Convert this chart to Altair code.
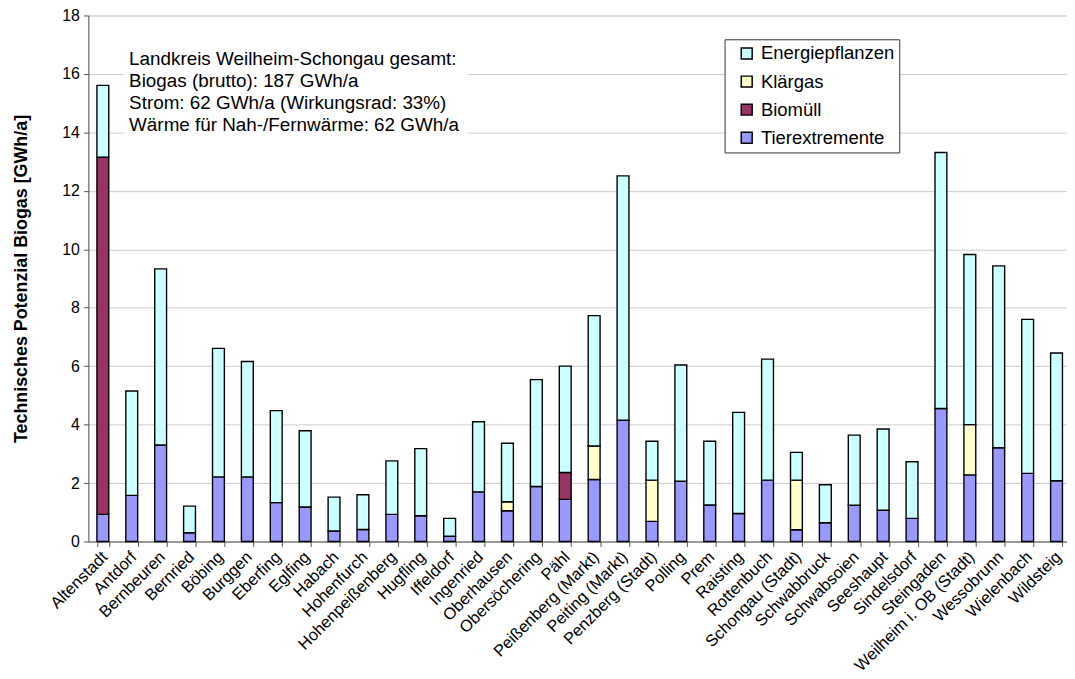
import altair as alt
import pandas as pd

gemeinden = [
    "Altenstadt", "Antdorf", "Bernbeuren", "Bernried", "Böbing", "Burggen",
    "Eberfing", "Eglfing", "Habach", "Hohenfurch", "Hohenpeißenberg", "Hugfling",
    "Iffeldorf", "Ingenried", "Oberhausen", "Obersöchering", "Pähl",
    "Peißenberg (Markt)", "Peiting (Markt)", "Penzberg (Stadt)", "Polling", "Prem",
    "Raisting", "Rottenbuch", "Schongau (Stadt)", "Schwabbruck", "Schwabsoien",
    "Seeshaupt", "Sindelsdorf", "Steingaden", "Weilheim i. OB (Stadt)",
    "Wessobrunn", "Wielenbach", "Wildsteig",
]
tierextremente = [0.93, 1.58, 3.30, 0.30, 2.21, 2.21, 1.33, 1.18, 0.36, 0.41, 0.93, 0.88,
                  0.18, 1.70, 1.05, 1.88, 1.44, 2.12, 4.15, 0.69, 2.06, 1.25,
                  0.96, 2.10, 0.40, 0.64, 1.24, 1.07, 0.79, 4.55, 2.28, 3.21, 2.33, 2.08]
biomuell = [12.22, 0, 0, 0, 0, 0, 0, 0, 0, 0, 0, 0,
            0, 0, 0, 0, 0.92, 0, 0, 0, 0, 0,
            0, 0, 0, 0, 0, 0, 0, 0, 0, 0, 0, 0]
klaergas = [0, 0, 0, 0, 0, 0, 0, 0, 0, 0, 0, 0,
            0, 0, 0.31, 0, 0, 1.15, 0, 1.41, 0, 0,
            0, 0, 1.70, 0, 0, 0, 0, 0, 1.72, 0, 0, 0]
energiepflanzen = [2.46, 3.57, 6.03, 0.91, 4.40, 3.95, 3.15, 2.61, 1.16, 1.19, 1.83, 2.30,
                   0.61, 2.40, 2.00, 3.66, 3.64, 4.46, 8.36, 1.33, 3.98, 2.18,
                   3.46, 4.14, 0.95, 1.30, 2.40, 2.78, 1.94, 8.76, 5.82, 6.22, 5.27, 4.37]

legend_names = ["Energiepflanzen", "Klärgas", "Biomüll", "Tierextremente"]
legend_colors = ["#CCFFFF", "#FFFFCC", "#993366", "#9999FF"]
y_ticks = [0, 2, 4, 6, 8, 10, 12, 14, 16, 18]
annotation_lines = [
    "Landkreis Weilheim-Schongau gesamt:",
    "Biogas (brutto): 187 GWh/a",
    "Strom: 62 GWh/a (Wirkungsrad: 33%)",
    "Wärme für Nah-/Fernwärme: 62 GWh/a",
]
y_title = "Technisches Potenzial Biogas [GWh/a]"

series = [("Tierextremente", tierextremente), ("Biomüll", biomuell),
          ("Klärgas", klaergas), ("Energiepflanzen", energiepflanzen)]
rows = []
for i, g in enumerate(gemeinden):
    for k, (name, vals) in enumerate(series):
        if vals[i] > 0:
            rows.append({"Gemeinde": g, "Quelle": name, "Wert": vals[i], "Ordnung": k})
df = pd.DataFrame(rows)

FONT = "Liberation Sans"
W, H = 990, 530

bars = alt.Chart(df).mark_bar(stroke="black", strokeWidth=1.4).encode(
    x=alt.X("Gemeinde:N", sort=gemeinden,
            scale=alt.Scale(paddingInner=0.59, paddingOuter=0.295),
            axis=alt.Axis(title=None, labelAngle=-45, labelAlign="right", labelBaseline="top",
                          labelPadding=2, labelOffset=-4, labelFontSize=16.5, labelFont=FONT,
                          labelColor="black", labelLimit=400, labelOverlap=False,
                          tickBand="extent", tickSize=5,
                          tickColor="#555555", domainColor="#555555", grid=False)),
    y=alt.Y("Wert:Q", stack="zero",
            scale=alt.Scale(domain=[0, 18], nice=False),
            axis=alt.Axis(values=y_ticks, title=y_title, titleFontSize=18, titleFont=FONT,
                          titleFontWeight="bold", titleColor="black", titleAngle=270,
                          titleX=-67, titleY=H / 2, titleAlign="center", titleBaseline="middle",
                          labelFontSize=16, labelFont=FONT, labelColor="black", labelPadding=4,
                          tickSize=5, tickColor="#555555", domainColor="#555555",
                          gridColor="#cccccc", gridWidth=1)),
    color=alt.Color("Quelle:N",
                    scale=alt.Scale(domain=legend_names, range=legend_colors),
                    legend=alt.Legend(title=None, orient="none", legendX=641, legendY=24,
                                      padding=5, rowPadding=9.3, symbolOffset=8,
                                      symbolType="square", symbolSize=121,
                                      symbolStrokeColor="black", symbolStrokeWidth=1.5,
                                      labelFontSize=18.6, labelFont=FONT,
                                      labelColor="black", labelOffset=5,
                                      strokeColor="#333333", fillColor="white")),
    order=alt.Order("Ordnung:Q", sort="ascending"),
)

box = alt.Chart(pd.DataFrame({"a": [0]})).mark_rect(fill="white", stroke=None).encode(
    x=alt.value(36), x2=alt.value(383), y=alt.value(30), y2=alt.value(121)
)

note = alt.Chart(pd.DataFrame({"a": [0]})).mark_text(
    text=annotation_lines, align="left", baseline="alphabetic", fontSize=19,
    font=FONT, lineHeight=22, color="black"
).encode(x=alt.value(41), y=alt.value(50))

chart = alt.layer(box, bars, note).properties(
    width=W, height=H,
    padding={"left": 81, "top": 5, "right": -4, "bottom": 136},
    autosize="none",
).configure_view(stroke="#808080", strokeWidth=1).configure(background="white")

chart.save("out.html", embed_options={"renderer": "svg", "actions": False})
